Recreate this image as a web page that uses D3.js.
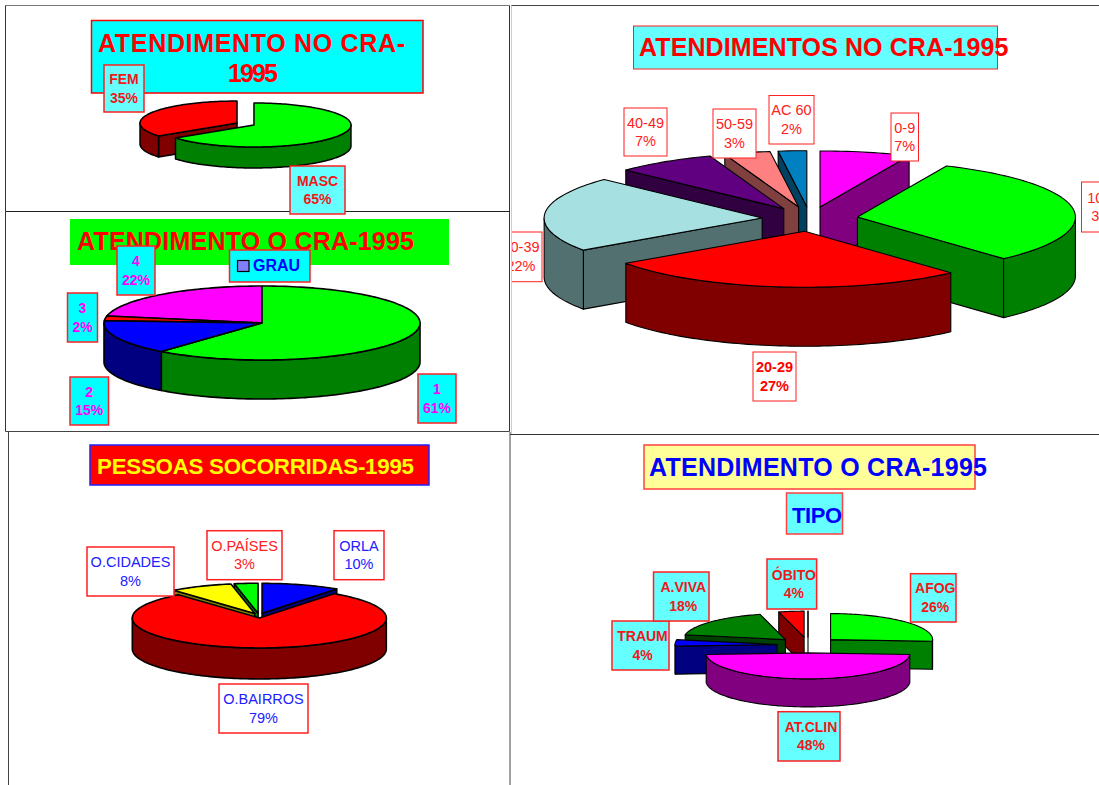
<!DOCTYPE html>
<html>
<head>
<meta charset="utf-8">
<script src="https://d3js.org/d3.v7.min.js"></script>
<style>
body { margin: 0; background: #fff; }
svg { display: block; }
text { font-family: "Liberation Sans", Arial, sans-serif; }
</style>
</head>
<body>
<div id="charts"></div>
<script>
// data (percent, clockwise from 12 o'clock)
var sexoLabels = ["MASC", "FEM"];
var sexoValues = [65, 35];

var grauLabels = ["1", "2", "3", "4"];
var grauValues = [61, 15, 2, 22];

// slice angles, tags show them rounded
var idadeLabels = ["0-9", "10-19", "20-29", "30-39", "40-49", "50-59", "AC 60"];
var idadeValues = [6.7, 31.6, 27, 21.8, 7.4, 3.4, 2.1];

var localLabels = ["ORLA", "O.BAIRROS", "O.CIDADES", "O.PAÍSES"];
var localValues = [10, 79, 8, 3];

// last one is an empty slice, it only shows as a thin line next to OBITO
var tipoLabels = ["AFOG", "AT.CLIN", "TRAUM", "A.VIVA", "ÓBITO", ""];
var tipoValues = [26, 48, 4, 18, 4, 0];

var width = 1099, height = 785;
var cyanSoft = "#66ffff", cyan = "#00ffff";

var svg = d3.select("#charts").append("svg")
    .attr("width", width)
    .attr("height", height);

svg.append("defs").append("clipPath")
    .attr("id", "clipright")
    .append("rect")
    .attr("x", 512)
    .attr("y", 0)
    .attr("width", width - 512)
    .attr("height", height);

// panel frames
var frames = [
    [5.5, 5.5, 509.5, 5.5, "#777"],
    [5.5, 5.5, 5.5, 211.5, "#333"],
    [509.5, 5.5, 509.5, 431.5, "#333"],
    [5.5, 211.5, 509.5, 211.5, "#222"],
    [5.5, 211.5, 5.5, 431.5, "#333"],
    [5.5, 431.5, 509.5, 431.5, "#444"],
    [511, 5.5, 1099, 5.5, "#444"],
    [511.5, 5.5, 511.5, 434, "#ccc"],
    [510, 434.5, 1099, 434.5, "#333"],
    [8.5, 432, 8.5, 785, "#444"],
    [510, 432, 510, 785, "#444"]
];

svg.selectAll(".frame")
    .data(frames)
    .enter().append("line")
    .attr("class", "frame")
    .attr("x1", function (d) { return d[0]; })
    .attr("y1", function (d) { return d[1]; })
    .attr("x2", function (d) { return d[2]; })
    .attr("y2", function (d) { return d[3]; })
    .style("stroke", function (d) { return d[4]; })
    .style("stroke-width", 1);

var line = d3.line();
var pie = d3.pie().sort(null);

function halfColor(c) {
    var rgb = d3.rgb(c);
    return d3.rgb(rgb.r / 2, rgb.g / 2, rgb.b / 2).formatHex();
}

function drawPie(parent, opt) {
    var k = opt.ry / opt.rx;

    // a slice moved out along its middle angle
    function slicePoint(d, a, down) {
        var mid = (d.startAngle + d.endAngle) / 2;
        return [
            opt.cx + opt.explode * Math.sin(mid) + opt.rx * Math.sin(a),
            opt.cy - opt.explode * k * Math.cos(mid) - opt.ry * Math.cos(a) + down
        ];
    }
    function center(d, down) {
        var mid = (d.startAngle + d.endAngle) / 2;
        return [
            opt.cx + opt.explode * Math.sin(mid),
            opt.cy - opt.explode * k * Math.cos(mid) + down
        ];
    }
    function arcPoints(d, a0, a1, down) {
        var n = Math.max(2, Math.ceil((a1 - a0) * 40));
        return d3.range(n + 1).map(function (i) {
            return slicePoint(d, a0 + (a1 - a0) * i / n, down);
        });
    }

    var arcs = pie(opt.values).map(function (d, i) {
        d.color = opt.colors[i];
        return d;
    });
    // back slices first
    arcs.sort(function (a, b) {
        return Math.cos((b.startAngle + b.endAngle) / 2) - Math.cos((a.startAngle + a.endAngle) / 2);
    });

    var slices = parent.selectAll(".slice")
        .data(arcs)
        .enter().append("g")
        .attr("class", "slice")
        .style("stroke", "#000")
        .style("stroke-width", opt.stroke)
        .style("stroke-linejoin", "round");

    slices.each(function (d) {
        var g = d3.select(this);
        var wall = halfColor(d.color);
        var walls = [];

        // only the radial walls facing the viewer, none when the pie is closed
        if (opt.explode > 0) {
            if (d.startAngle === d.endAngle) walls.push(d.startAngle);
            if (Math.sin(d.startAngle) < -1e-6) walls.push(d.startAngle);
            if (Math.sin(d.endAngle) > 1e-6) walls.push(d.endAngle);
        }
        walls.forEach(function (a) {
            g.append("path")
                .attr("d", line([center(d, 0), slicePoint(d, a, 0), slicePoint(d, a, opt.depth), center(d, opt.depth)]) + "Z")
                .style("fill", wall);
        });

        // outer wall, front half of the ellipse
        var a0 = Math.max(d.startAngle, Math.PI / 2);
        var a1 = Math.min(d.endAngle, Math.PI * 3 / 2);
        if (a1 > a0) {
            var pts = arcPoints(d, a0, a1, 0).concat(arcPoints(d, a0, a1, opt.depth).reverse());
            g.append("path")
                .attr("d", line(pts) + "Z")
                .style("fill", wall);
        }

        // top face
        var top = [center(d, 0)].concat(arcPoints(d, d.startAngle, d.endAngle, 0));
        g.append("path")
            .attr("d", line(top) + "Z")
            .style("fill", d.color);
    });
}

function drawTitle(parent, opt) {
    parent.append("rect")
        .attr("x", opt.box[0])
        .attr("y", opt.box[1])
        .attr("width", opt.box[2] - opt.box[0])
        .attr("height", opt.box[3] - opt.box[1])
        .style("fill", opt.fill)
        .style("stroke", opt.stroke || "none")
        .style("stroke-width", opt.strokeWidth || 1.5);

    opt.lines.forEach(function (l) {
        parent.append("text")
            .attr("x", l[1])
            .attr("y", l[2])
            .attr("textLength", l[3])
            .attr("lengthAdjust", "spacing")
            .style("font-size", (opt.size || 25) + "px")
            .style("font-weight", "bold")
            .style("fill", opt.color)
            .text(l[0]);
    });
}

function drawLabels(parent, opt) {
    var rows = opt.labels.map(function (name, i) {
        return { name: name, value: opt.values[i], box: opt.boxes[i], color: opt.colors ? opt.colors[i] : opt.color };
    }).filter(function (d) {
        return d.box;
    });

    var tag = parent.selectAll(".tag")
        .data(rows)
        .enter().append("g")
        .attr("class", "tag");

    tag.append("rect")
        .attr("x", function (d) { return d.box[0]; })
        .attr("y", function (d) { return d.box[1]; })
        .attr("width", function (d) { return d.box[2] - d.box[0]; })
        .attr("height", function (d) { return d.box[3] - d.box[1]; })
        .style("fill", opt.fill)
        .style("stroke", "#ff2020")
        .style("stroke-width", opt.strokeWidth);

    function tx(d) {
        return (d.box[0] + d.box[2]) / 2 + (opt.shift || 0);
    }
    function cy(d) {
        return (d.box[1] + d.box[3]) / 2;
    }

    tag.append("text")
        .attr("x", tx)
        .attr("y", function (d) { return cy(d) - 4.5; })
        .style("text-anchor", "middle")
        .style("font-size", opt.size + "px")
        .style("font-weight", opt.weight)
        .style("fill", function (d) { return d.color; })
        .text(function (d) { return d.name; });

    tag.append("text")
        .attr("x", tx)
        .attr("y", function (d) { return cy(d) + 14; })
        .style("text-anchor", "middle")
        .style("font-size", opt.size + "px")
        .style("font-weight", opt.weight)
        .style("fill", function (d) { return d.color; })
        .text(function (d) { return Math.round(d.value) + "%"; });
}

// ATENDIMENTO NO CRA - sexo
var chart1 = svg.append("g");
drawTitle(chart1, {
    box: [91.5, 20.5, 423, 93], fill: cyan, stroke: "#ff0000", color: "#ff0000",
    lines: [["ATENDIMENTO NO CRA-", 98, 52, 307], ["1995", 228, 82, 50]]
});
drawPie(chart1, {
    values: sexoValues, colors: ["#00ff00", "#ff0000"],
    cx: 245.5, cy: 124, rx: 97, ry: 22, depth: 21, explode: 9.5, stroke: 1.5
});
drawLabels(chart1, {
    labels: sexoLabels, values: sexoValues, fill: cyanSoft, color: "#f01818",
    size: 14, weight: "bold", strokeWidth: 1.5,
    boxes: [[290, 166, 345, 214], [104, 65, 144, 112]]
});

// ATENDIMENTO O CRA - grau
var chart2 = svg.append("g");
drawTitle(chart2, {
    box: [70, 219, 449, 265], fill: "#00ff00", color: "#ff0000",
    lines: [["ATENDIMENTO O CRA-1995", 77, 250, 337]]
});
drawPie(chart2, {
    values: grauValues, colors: ["#00ff00", "#0000ff", "#ff0000", "#ff00ff"],
    cx: 262, cy: 323, rx: 158, ry: 37, depth: 39, explode: 0, stroke: 1.6
});
drawLabels(chart2, {
    labels: grauLabels, values: grauValues, fill: cyan, color: "#ff00ff",
    size: 14, weight: "bold", strokeWidth: 1.5,
    boxes: [[418, 374, 456, 423], [70, 377, 108.5, 425], [67.5, 293, 97.5, 342], [117, 246, 155, 295]]
});
// legend
chart2.append("rect")
    .attr("x", 229.5).attr("y", 250)
    .attr("width", 80.5).attr("height", 32)
    .style("fill", cyan).style("stroke", "#ff2020").style("stroke-width", 1.5);
chart2.append("rect")
    .attr("x", 237.5).attr("y", 260.5)
    .attr("width", 11.5).attr("height", 11)
    .style("fill", "#8080ff").style("stroke", "#000").style("stroke-width", 1.2);
chart2.append("text")
    .attr("x", 253).attr("y", 271)
    .style("font-size", "16px").style("font-weight", "bold").style("fill", "#0000ff")
    .text("GRAU");

// ATENDIMENTOS NO CRA - idade
var chart3 = svg.append("g").attr("clip-path", "url(#clipright)");
drawTitle(chart3, {
    box: [633.5, 26, 997.5, 69], fill: cyanSoft, stroke: "#ff2020", strokeWidth: 1, color: "#ff0000",
    lines: [["ATENDIMENTOS NO CRA-1995", 639, 55.7, 369.5]]
});
drawPie(chart3, {
    values: idadeValues,
    colors: ["#ff00ff", "#00ff00", "#ff0000", "#a6e0e0", "#600080", "#ff8080", "#0080c0"],
    cx: 810, cy: 219, rx: 218, ry: 56, depth: 59, explode: 48, stroke: 1.1
});
drawLabels(chart3, {
    labels: idadeLabels, values: idadeValues, fill: "#fff", color: "#ff2020",
    size: 14.5, weight: "normal", strokeWidth: 1,
    boxes: [
        [891, 113, 918.5, 161],
        [1081.5, 182, 1130, 232],
        null,
        [500, 232, 542, 281.7],
        [624, 108, 667, 156],
        [713, 109, 756, 158],
        [769, 95.5, 814, 144]
    ]
});
// 20-29 is the only bold tag here
drawLabels(chart3.append("g"), {
    labels: ["20-29"], values: [idadeValues[2]], fill: "#fff", color: "#ff0000",
    size: 14.5, weight: "bold", strokeWidth: 1,
    boxes: [[753, 352, 796, 401]]
});

// PESSOAS SOCORRIDAS
var chart4 = svg.append("g");
drawTitle(chart4, {
    box: [90, 445, 429, 485], fill: "#ff0000", stroke: "#2020ff", color: "#ffff00", size: 22.3,
    lines: [["PESSOAS SOCORRIDAS-1995", 97, 474, 317]]
});
drawPie(chart4, {
    values: localValues, colors: ["#0000ff", "#ff0000", "#ffff00", "#00ff00"],
    cx: 259, cy: 615.6, rx: 127, ry: 30, depth: 31, explode: 10, stroke: 1.6
});
drawLabels(chart4, {
    labels: localLabels, values: localValues, fill: "#fff",
    colors: ["#2020ff", "#2020ff", "#2020ff", "#ff2020"],
    size: 14.5, weight: "normal", strokeWidth: 1.5,
    boxes: [[334, 530.7, 384, 579.7], [219, 684, 308, 733], [87, 547, 174, 596], [207, 530.7, 282, 579.7]]
});

// ATENDIMENTO O CRA - tipo
var chart5 = svg.append("g");
drawTitle(chart5, {
    box: [644, 445, 975, 489], fill: "#ffff99", stroke: "#ff4040", color: "#0000ff",
    lines: [["ATENDIMENTO O CRA-1995", 649, 475.7, 338]]
});
drawTitle(chart5, {
    box: [786.5, 493, 842.5, 534], fill: cyanSoft, stroke: "#ff4040", color: "#0000ff", size: 22,
    lines: [["TIPO", 792, 523, 50]]
});
drawPie(chart5, {
    values: tipoValues,
    colors: ["#00ff00", "#ff00ff", "#0000ff", "#008000", "#ff0000", "#ff0000"],
    cx: 808, cy: 645, rx: 102, ry: 26, depth: 28, explode: 31, stroke: 1.1
});
drawLabels(chart5, {
    labels: tipoLabels, values: tipoValues, fill: cyanSoft, color: "#f01818",
    size: 14, weight: "bold", strokeWidth: 1.5, shift: 2,
    boxes: [[910.5, 573.7, 956, 622], [778, 711.7, 840, 761], [612, 621, 669, 670], [653.5, 572, 709, 621], [767, 559, 816.6, 609], null]
});
</script>
</body>
</html>
